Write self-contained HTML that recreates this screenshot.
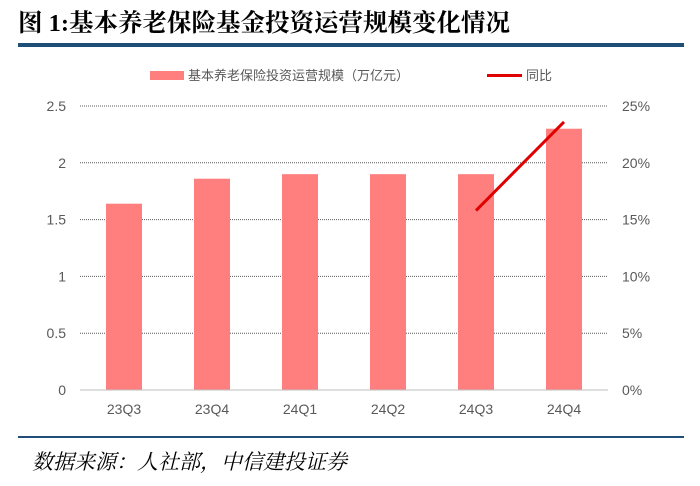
<!DOCTYPE html>
<html><head><meta charset="utf-8"><style>
body{margin:0;background:#fff;width:700px;height:481px;overflow:hidden;font-family:"Liberation Sans","Noto Sans CJK SC",sans-serif}
</style></head><body>
<svg width="700" height="481" xmlns="http://www.w3.org/2000/svg" id="svg">
<text x="18" y="31" font-size="24.5" font-weight="bold" fill="#000" font-family="Liberation Serif, Noto Serif CJK SC, serif">图 1:基本养老保险基金投资运营规模变化情况</text>
<rect x="18" y="43" width="666" height="4" fill="#1f4e79"/>
<g>
<rect x="150" y="71" width="34" height="9" fill="#ff7f7f"/>
<text x="188" y="80" font-size="13" fill="#595959">基本养老保险投资运营规模（万亿元）</text>
<line x1="487" y1="75.5" x2="522" y2="75.5" stroke="#e00000" stroke-width="3"/>
<text x="526" y="80" font-size="13" fill="#595959">同比</text>
</g>
<g id="grid"></g><g id="bars"></g><g id="line"></g><g id="axes"></g>
<line x1="18" y1="437" x2="684" y2="437" stroke="#1f4e79" stroke-width="2"/>
<text x="32" y="469" font-size="21" font-style="italic" fill="#000" font-family="Liberation Serif, Noto Serif CJK SC, serif">数据来源：人社部，中信建投证券</text>
</svg>
<script>
const categories=["23Q3","23Q4","24Q1","24Q2","24Q3","24Q4"];
const scaleValues=[1.64,1.86,1.90,1.90,1.90,2.30];
const yoyValues=[null,null,null,null,15.8,23.6];
const leftTicks=["0","0.5","1","1.5","2","2.5"];
const rightTicks=["0%","5%","10%","15%","20%","25%"];
const NS="http://www.w3.org/2000/svg";
const x0=80,x1=608,yB=390,yT=106;
const band=(x1-x0)/categories.length;
const xc=i=>x0+band*(i+0.5);
const yL=v=>yB-v/2.5*(yB-yT);
const yR=v=>yB-v/25*(yB-yT);
function mk(t,a,p){const e=document.createElementNS(NS,t);for(const k in a)e.setAttribute(k,a[k]);p.appendChild(e);return e;}
const G=document.getElementById('grid'),B=document.getElementById('bars'),L=document.getElementById('line'),A=document.getElementById('axes');
leftTicks.forEach((t,i)=>{const v=i*0.5,y=yL(v);
 if(i>0){const g=mk('line',{x1:x0,x2:x1,y1:y,y2:y,stroke:'#595959','stroke-width':1,'stroke-dasharray':'1,1'},G);
 
 }
 const tl=mk('text',{x:66,y:y+5,'font-size':14,fill:'#595959','text-anchor':'end'},A);tl.textContent=t;
 
 
 const tr=mk('text',{x:622,y:y+5,'font-size':14,fill:'#595959'},A);tr.textContent=rightTicks[i];
 
 });
const ax=mk('line',{x1:x0,x2:x1,y1:yB,y2:yB,stroke:'#bfbfbf','stroke-width':1},A);


categories.forEach((c,i)=>{const r=mk('rect',{x:xc(i)-18,y:yL(scaleValues[i]),width:36,height:yB-yL(scaleValues[i]),fill:'#ff7f7f'},B);
 
 
 const t=mk('text',{x:xc(i),y:414,'font-size':14,fill:'#595959','text-anchor':'middle'},A);t.textContent=c;
 
 });
const pts=yoyValues.map((v,i)=>v==null?null:[xc(i),yR(v)]).filter(p=>p);
const pl=mk('polyline',{points:pts.map(p=>p.join(',')).join(' '),fill:'none',stroke:'#e00000','stroke-width':3},L);


</script>
</body></html>
